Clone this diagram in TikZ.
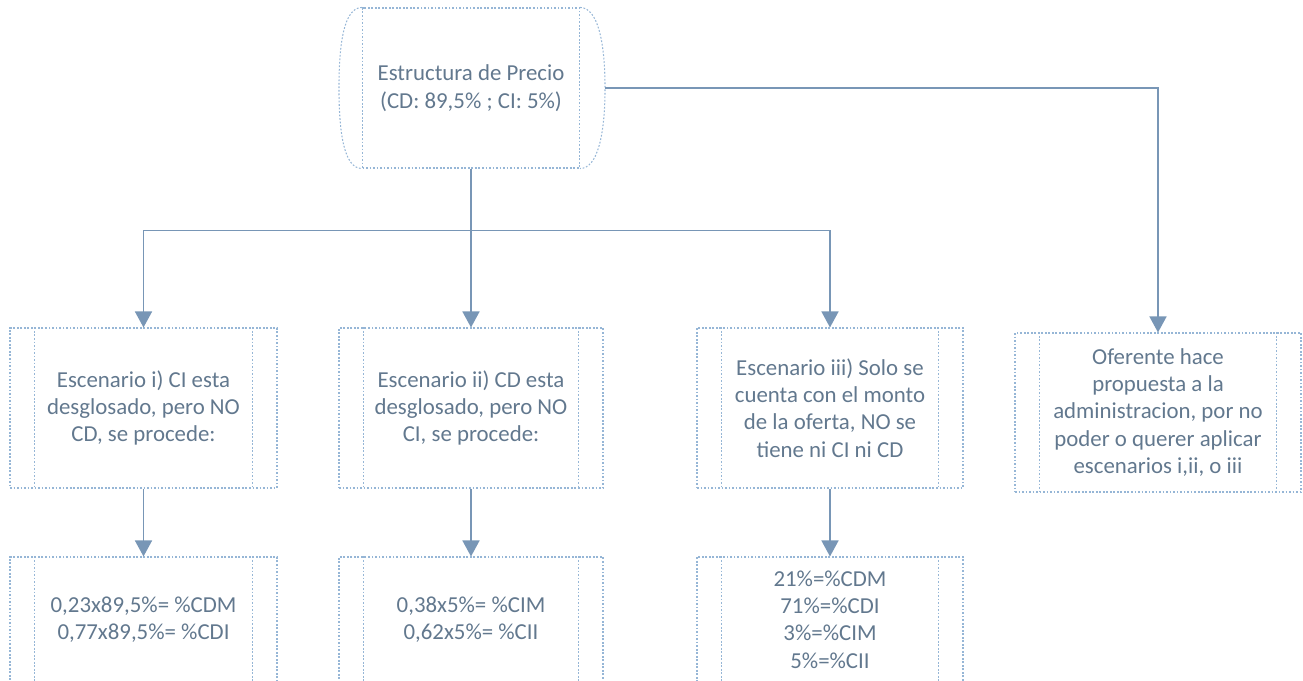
\documentclass[tikz,border=0pt]{standalone}
\usepackage{fontspec}
\setmainfont{Carlito}
\usetikzlibrary{arrows.meta,positioning,calc}
\definecolor{wire}{RGB}{120,150,182}
\definecolor{rim}{RGB}{150,182,214}
\definecolor{slate}{RGB}{98,120,142}
\tikzset{
  >={Triangle[length=3.2mm,width=3.4mm]},
  rim line/.style={draw=rim,line width=0.6pt,dash pattern=on 1pt off 1pt},
  proc/.style={rim line,minimum height=32mm,minimum width=#1,inner sep=0pt,
    text=slate,align=center,font=\fontsize{13}{15.6}\selectfont},
  proc/.default=53.4mm,
  txt/.style={text=slate,align=center,font=\fontsize{13}{15.6}\selectfont},
  flow/.style={->,draw=wire,line width=0.9pt},
}

\begin{document}
\begin{tikzpicture}[x=0.2mm,y=-0.2mm]
  \clip (0,0) rectangle (1303,681);
  % head
  \node[proc=43.4mm] (precio) at (471,88) {Estructura de Precio\\(CD: 89,5\% ; CI: 5\%)};
  \draw[rim line] (precio.north west) .. controls +(-18,0) and +(0,-45) .. ($(precio.west)+(-23,0)$)
    .. controls +(0,45) and +(-18,0) .. (precio.south west);
  \draw[rim line] (precio.north east) .. controls +(18,0) and +(0,-45) .. ($(precio.east)+(25,0)$) coordinate (precioR)
    .. controls +(0,45) and +(18,0) .. (precio.south east);
  % scenarios
  \node[proc] (esc1) at (143.5,408) {Escenario i) CI esta\\desglosado, pero NO\\CD, se procede:};
  \node[proc=52.8mm] (esc2) at (471,408) {Escenario ii) CD esta\\desglosado, pero NO\\CI, se procede:};
  \node[proc=53.2mm] (esc3) at (830,408) {Escenario iii) Solo se\\cuenta con el monto\\de la oferta, NO se\\tiene ni CI ni CD};
  \node[proc=57.2mm,minimum height=31.8mm] (ofer) at (1158,412.5) {Oferente hace\\propuesta a la\\administracion, por no\\poder o querer aplicar\\escenarios i,ii, o iii};
  % results
  \node[proc] (res1) at (143.5,637) {};
  \node[proc=52.8mm] (res2) at (471,637) {};
  \node[proc=53.2mm] (res3) at (830,637) {};
  \node[txt] (res1t) at ($(res1.north)+(0,63)$) {0,23x89,5\%= \%CDM\\0,77x89,5\%= \%CDI};
  \node[txt] (res2t) at ($(res2.north)+(0,63)$) {0,38x5\%= \%CIM\\0,62x5\%= \%CII};
  \node[txt] (res3t) at ($(res3.north)+(0,63)$) {21\%=\%CDM\\71\%=\%CDI\\3\%=\%CIM\\5\%=\%CII};
  \foreach \n in {esc1,esc2,esc3,ofer,res1,res2,res3} {
    \draw[rim line] ([xshift=5mm]\n.north west) -- ([xshift=5mm]\n.south west);
    \draw[rim line] ([xshift=-5mm]\n.north east) -- ([xshift=-5mm]\n.south east);
  }
  % connectors
  \coordinate (split) at ($(precio.south)+(0,62)$);
  \draw[flow] (precio.south) -- (esc2);
  \draw[flow,-] (precio.south) -- (split);
  \draw[flow] (split) -| (esc1);
  \draw[flow] (split) -| (esc3);
  \draw[flow] (precioR) -| (ofer);
  \draw[flow] (esc1) -- (res1);
  \draw[flow] (esc2) -- (res2);
  \draw[flow] (esc3) -- (res3);
\end{tikzpicture}
\end{document}
